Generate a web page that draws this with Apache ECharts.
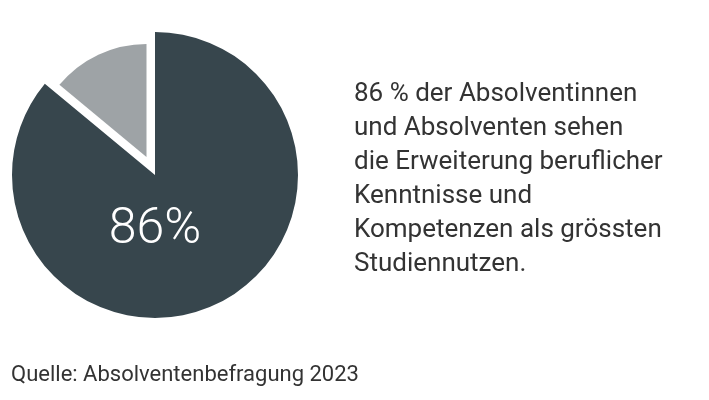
<!DOCTYPE html>
<html>
<head>
<meta charset="utf-8">
<script src="https://cdn.jsdelivr.net/npm/echarts@6/dist/echarts.min.js"></script>
<style>
  html, body { margin: 0; padding: 0; background: #fff; }
  #chart { width: 709px; height: 400px; }
</style>
</head>
<body>
<div id="chart"></div>
<script>
var sliceNames = ['Erweiterung beruflicher Kenntnisse', 'Andere'];
var sliceValues = [86, 14];
var bigLabel = '86%';
var noteLines = [
    '86 % der Absolventinnen',
    'und Absolventen sehen',
    'die Erweiterung beruflicher',
    'Kenntnisse und',
    'Kompetenzen als grössten',
    'Studiennutzen.'
];
var sourceText = 'Quelle: Absolventenbefragung 2023';

var myChart = echarts.init(document.getElementById('chart'));

var darkColor = '#37464d';
var greyColor = '#9ea3a6';

// big slice on the full radius, small slice drawn by a second, smaller pie
var outerData = [];
var innerData = [];
for (var i = 0; i < sliceValues.length; i++) {
    outerData.push({
        name: sliceNames[i],
        value: sliceValues[i],
        itemStyle: { color: i === 0 ? darkColor : 'rgba(0,0,0,0)' }
    });
    innerData.push({
        name: sliceNames[i],
        value: sliceValues[i],
        selected: i === 1,
        itemStyle: { color: i === 1 ? greyColor : 'rgba(0,0,0,0)' }
    });
}

var option = {
    animation: false,
    backgroundColor: '#fff',
    textStyle: { fontFamily: 'Roboto' },
    graphic: [
        {
            type: 'text',
            left: 354,
            top: 77,
            style: {
                text: noteLines.join('\n'),
                font: '400 26px Roboto',
                fill: '#333333',
                lineHeight: 34
            }
        },
        {
            type: 'text',
            left: 11,
            top: 364,
            style: {
                text: sourceText,
                font: '400 22px Roboto',
                fill: '#333333'
            }
        },
        {
            type: 'text',
            x: 155,
            y: 230,
            style: {
                text: bigLabel,
                font: '300 50px Roboto',
                fill: '#ffffff',
                textAlign: 'center',
                textVerticalAlign: 'middle'
            },
            z: 100
        }
    ],
    series: [
        {
            type: 'pie',
            center: [155, 175],
            radius: 143,
            startAngle: 90,
            clockwise: true,
            silent: true,
            label: { show: false },
            labelLine: { show: false },
            data: outerData
        },
        {
            type: 'pie',
            center: [155, 175],
            radius: 113,
            startAngle: 90,
            clockwise: true,
            silent: true,
            selectedMode: 'single',
            selectedOffset: 20,
            label: { show: false },
            labelLine: { show: false },
            data: innerData
        }
    ]
};

myChart.setOption(option);
</script>
</body>
</html>
